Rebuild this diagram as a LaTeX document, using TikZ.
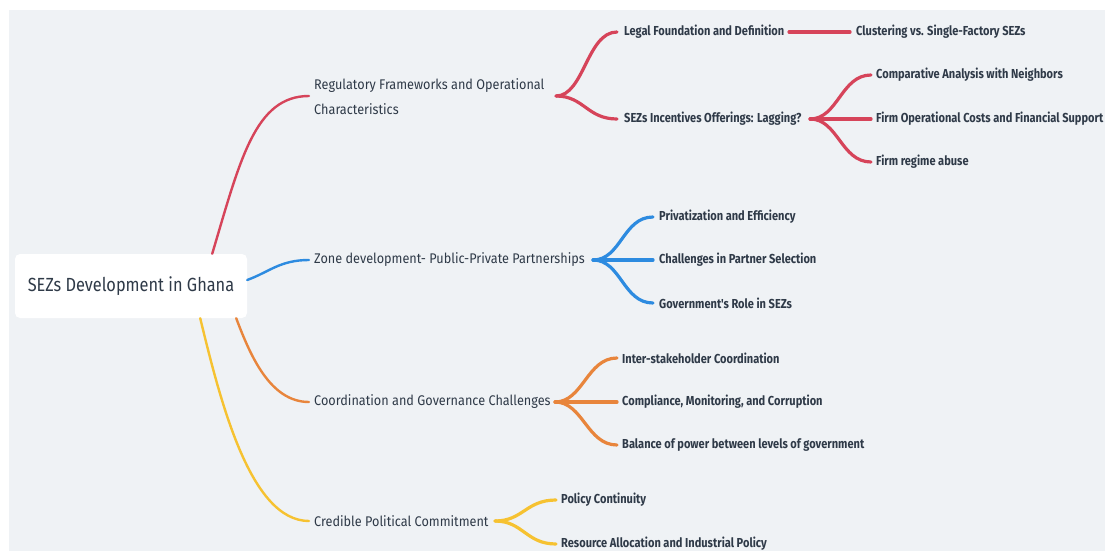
\documentclass[tikz,border=0pt]{standalone}
\usepackage{fontspec}
\setmainfont{Fira Sans}
\newfontfamily\mapfont[FakeStretch=0.905]{Fira Sans}
\newfontfamily\rootfont[FakeStretch=0.86]{Fira Sans}
\newfontfamily\leaffont[FakeStretch=0.85]{Fira Sans}

\definecolor{bgcol}{HTML}{EFF2F5}
\definecolor{inkcol}{HTML}{2F3A48}
\definecolor{redbr}{HTML}{D6445A}
\definecolor{bluebr}{HTML}{2D8BE0}
\definecolor{orangebr}{HTML}{E8853C}
\definecolor{yellowbr}{HTML}{F6C231}

\tikzset{
  rootbox/.style={fill=white, rounded corners=5pt, minimum width=232pt, minimum height=64pt,
    inner sep=0pt, text=inkcol, font=\rootfont\fontsize{19}{22}\selectfont},
  topic/.style={anchor=west, inner sep=0pt, align=left, text=inkcol,
    font=\mapfont\fontsize{14}{25}\selectfont},
  leaf/.style={anchor=west, inner sep=0pt, yshift=-1pt, text=inkcol,
    font=\leaffont\bfseries\fontsize{13}{15}\selectfont},
  trunk/.style={line width=2.4pt, line cap=round},
  twig/.style={line width=3.2pt, line cap=round},
}

\begin{document}
\begin{tikzpicture}[x=1pt,y=-1pt]
    \useasboundingbox (0,0) rectangle (1105,551);
    \fill[white] (0,0) rectangle (1105,551);
    \fill[bgcol] (9,10) rectangle (1105,551);

    % centre
    \node[rootbox] (root) at (131,286) {\raisebox{-2pt}{SEZs Development in Ghana}};

    % main topics
    \node[topic] (reg) at (314,97) {Regulatory Frameworks and Operational\\Characteristics};
    \node[topic] (zone) at (314,260) {Zone development- Public-Private Partnerships};
    \node[topic] (coord) at (314,402) {Coordination and Governance Challenges};
    \node[topic] (cred) at (314,521) {Credible Political Commitment};

    % hubs
    \coordinate (reghub) at (556,96);
    \coordinate (legalhub) at (789,32);
    \coordinate (incenthub) at (810,119);
    \coordinate (zonehub) at (593,260);
    \coordinate (coordhub) at (555,402);
    \coordinate (credhub) at (495,521);

    % leaves
    \node[leaf] (legal) at (624,31) {Legal Foundation and Definition};
    \node[leaf] (clust) at (856,31) {Clustering vs. Single-Factory SEZs};
    \node[leaf] (incent) at (624,118) {SEZs Incentives Offerings: Lagging?};
    \node[leaf] (compar) at (876,74) {Comparative Analysis with Neighbors};
    \node[leaf] (opcost) at (876,118) {Firm Operational Costs and Financial Support};
    \node[leaf] (abuse) at (876,161) {Firm regime abuse};

    \node[leaf] (priv) at (659,216) {Privatization and Efficiency};
    \node[leaf] (partner) at (659,259) {Challenges in Partner Selection};
    \node[leaf] (govrole) at (659,302) {Government's Role in SEZs};

    \node[leaf] (inter) at (622,357) {Inter-stakeholder Coordination};
    \node[leaf] (comply) at (622,401) {Compliance, Monitoring, and Corruption};
    \node[leaf] (balance) at (622,444) {Balance of power between levels of government};

    \node[leaf] (policy) at (561,499) {Policy Continuity};
    \node[leaf] (resource) at (561,543) {Resource Allocation and Industrial Policy};

    % root to topics
    \draw[trunk, redbr] ([xshift=-35pt]root.north east) .. controls +(28,-94) and +(-54,0) .. ([xshift=-5pt,yshift=1pt]reg.west);
    \draw[trunk, bluebr] ([yshift=6pt]root.east) .. controls +(22,-8) and +(-29,0) .. ([xshift=-5pt]zone.west);
    \draw[trunk, orangebr] ([xshift=-11pt]root.south east) .. controls +(14,37) and +(-39,0) .. ([xshift=-5pt]coord.west);
    \draw[trunk, yellowbr] ([xshift=-47pt]root.south east) .. controls +(20,82) and +(-59,0) .. ([xshift=-5pt]cred.west);

    % regulatory
    \draw[twig, redbr] (reghub) .. controls +(28,0) and +(-30,0) .. ([xshift=-7pt]legal.west);
    \draw[twig, redbr] (reghub) .. controls +(28,0) and +(-30,0) .. ([xshift=-7pt]incent.west);
    \draw[twig, redbr] (legalhub) -- ([xshift=-6pt]clust.west);
    \draw[twig, redbr] (incenthub) .. controls +(28,0) and +(-30,0) .. ([xshift=-5pt]compar.west);
    \draw[twig, redbr] (incenthub) -- ([xshift=-5pt]opcost.west);
    \draw[twig, redbr] (incenthub) .. controls +(28,0) and +(-30,0) .. ([xshift=-5pt]abuse.west);

    % zone
    \draw[twig, bluebr] (zonehub) .. controls +(28,0) and +(-30,0) .. ([xshift=-6pt]priv.west);
    \draw[twig, bluebr] (zonehub) -- ([xshift=-6pt]partner.west);
    \draw[twig, bluebr] (zonehub) .. controls +(28,0) and +(-30,0) .. ([xshift=-6pt]govrole.west);

    % coordination
    \draw[twig, orangebr] (coordhub) .. controls +(28,0) and +(-30,0) .. ([xshift=-5pt]inter.west);
    \draw[twig, orangebr] (coordhub) -- ([xshift=-5pt]comply.west);
    \draw[twig, orangebr] (coordhub) .. controls +(28,0) and +(-30,0) .. ([xshift=-5pt]balance.west);

    % commitment
    \draw[twig, yellowbr] (credhub) .. controls +(28,0) and +(-30,0) .. ([xshift=-5pt]policy.west);
    \draw[twig, yellowbr] (credhub) .. controls +(28,0) and +(-30,0) .. ([xshift=-5pt]resource.west);
\end{tikzpicture}
\end{document}
